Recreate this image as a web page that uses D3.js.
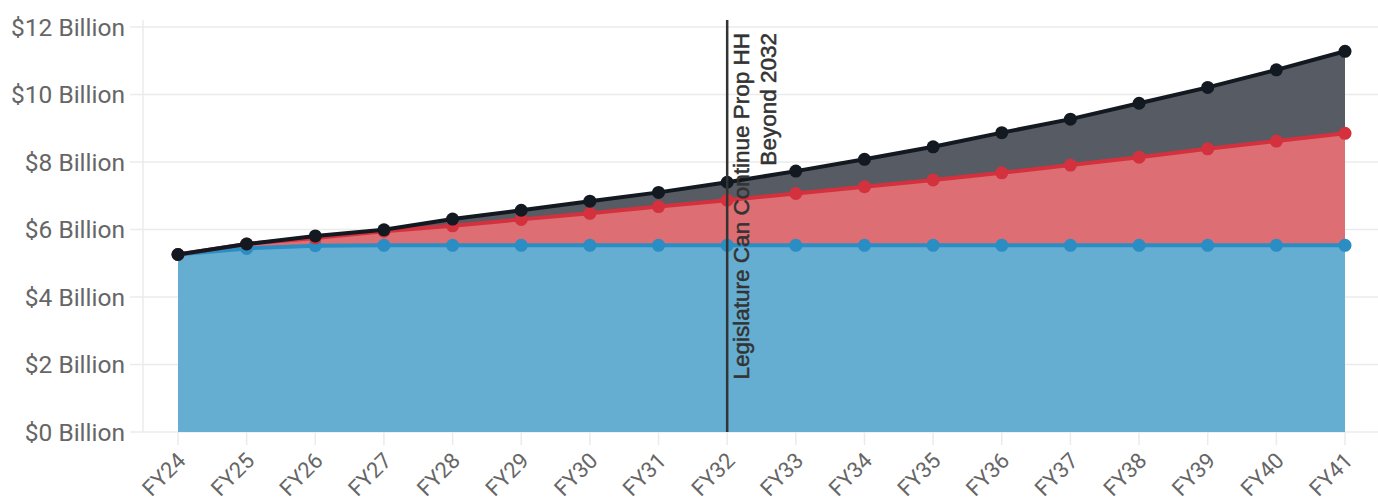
<!DOCTYPE html>
<html><head><meta charset="utf-8">
<script src="https://cdn.jsdelivr.net/npm/d3@7"></script>
<style>html,body{margin:0;padding:0;background:#fff;}svg{display:block;font-family:Roboto,sans-serif;}</style>
</head><body>
<svg id="chart" width="1378" height="502"></svg>
<script>
const categories = ["FY24","FY25","FY26","FY27","FY28","FY29","FY30","FY31","FY32","FY33","FY34","FY35","FY36","FY37","FY38","FY39","FY40","FY41"];
const baseValues = [5.26,5.44,5.52,5.53,5.53,5.53,5.53,5.53,5.53,5.53,5.53,5.53,5.53,5.53,5.53,5.53,5.53,5.53];
const midValues = [5.26,5.57,5.75,5.95,6.11,6.30,6.48,6.68,6.87,7.07,7.27,7.47,7.68,7.91,8.14,8.39,8.62,8.85];
const topValues = [5.26,5.57,5.81,5.99,6.31,6.57,6.84,7.10,7.40,7.73,8.08,8.45,8.87,9.27,9.74,10.21,10.73,11.28];
const yTicks = [0,2,4,6,8,10,12];
const annotationCategory = "FY32";
const annotationLines = ["Legislature Can Continue Prop HH","Beyond 2032"];

const svg = d3.select("#chart");
const W = 1378, H = 502;
const m = {left:143, right:0, top:27, bottom:70};
const x = d3.scalePoint().domain(categories).range([178, 1345]);
const y = d3.scaleLinear().domain([0,12]).range([H - m.bottom, m.top]);

// grid
const grid = svg.append("g");
grid.selectAll("line.h").data(yTicks).join("line")
  .attr("x1", m.left - 13).attr("x2", W).attr("y1", d=>y(d)).attr("y2", d=>y(d))
  .attr("stroke", "#ebebeb").attr("stroke-width", 1.5);
grid.append("line").attr("x1", m.left).attr("x2", m.left).attr("y1", y(12)-7).attr("y2", y(0))
  .attr("stroke", "#ebebeb").attr("stroke-width", 1.5);
grid.selectAll("line.t").data(categories).join("line")
  .attr("x1", d=>x(d)).attr("x2", d=>x(d)).attr("y1", y(0)).attr("y2", y(0)+13)
  .attr("stroke", "#ebebeb").attr("stroke-width", 1.5);

// y labels
svg.append("g").selectAll("text").data(yTicks).join("text")
  .attr("x", 125).attr("y", d=>y(d)).attr("dy","0.35em")
  .attr("text-anchor","end").attr("fill","#666").style("font-size","24.5px")
  .text(d=>"$"+d+" Billion");

// x labels
svg.append("g").selectAll("text").data(categories).join("text")
  .attr("transform", d=>`translate(${x(d)+9},${y(0)+30}) rotate(-45)`)
  .attr("text-anchor","end").attr("fill","#666").style("font-size","22px")
  .text(d=>d);

const series = [
  {vals: topValues, fill:"#575b63", stroke:"#131920"},
  {vals: midValues, fill:"#dd6e73", stroke:"#d3313d"},
  {vals: baseValues, fill:"#65aed2", stroke:"#2a8dc4"}
];
const area = v => d3.area().x((d,i)=>x(categories[i])).y0(y(0)).y1(d=>y(d))(v);
const line = v => d3.line().x((d,i)=>x(categories[i])).y(d=>y(d))(v);

series.forEach(s=>{
  svg.append("path").attr("d", area(s.vals)).attr("fill", s.fill);
});
[...series].reverse().forEach(s=>{
  svg.append("path").attr("d", line(s.vals)).attr("fill","none").attr("stroke", s.stroke).attr("stroke-width", 4);
  svg.append("g").selectAll("circle").data(s.vals).join("circle")
    .attr("cx",(d,i)=>x(categories[i])).attr("cy", d=>y(d)).attr("r", 6.5).attr("fill", s.stroke);
});

// annotation
const ax = x(annotationCategory);
svg.append("line").attr("x1", ax).attr("x2", ax).attr("y1", 20).attr("y2", y(0))
  .attr("stroke","#333").attr("stroke-width", 2.5);
const at = svg.append("text")
  .attr("transform", `translate(${ax+22},33) rotate(-90)`)
  .attr("text-anchor","end").attr("fill","#333").attr("stroke","#333").attr("stroke-width",0.5)
  .style("font-family","'Liberation Sans',Arial,sans-serif").style("font-size","22.5px");
annotationLines.forEach((t,i)=>{
  at.append("tspan").attr("x",0).attr("y", i*27).text(t);
});
</script>
</body></html>
